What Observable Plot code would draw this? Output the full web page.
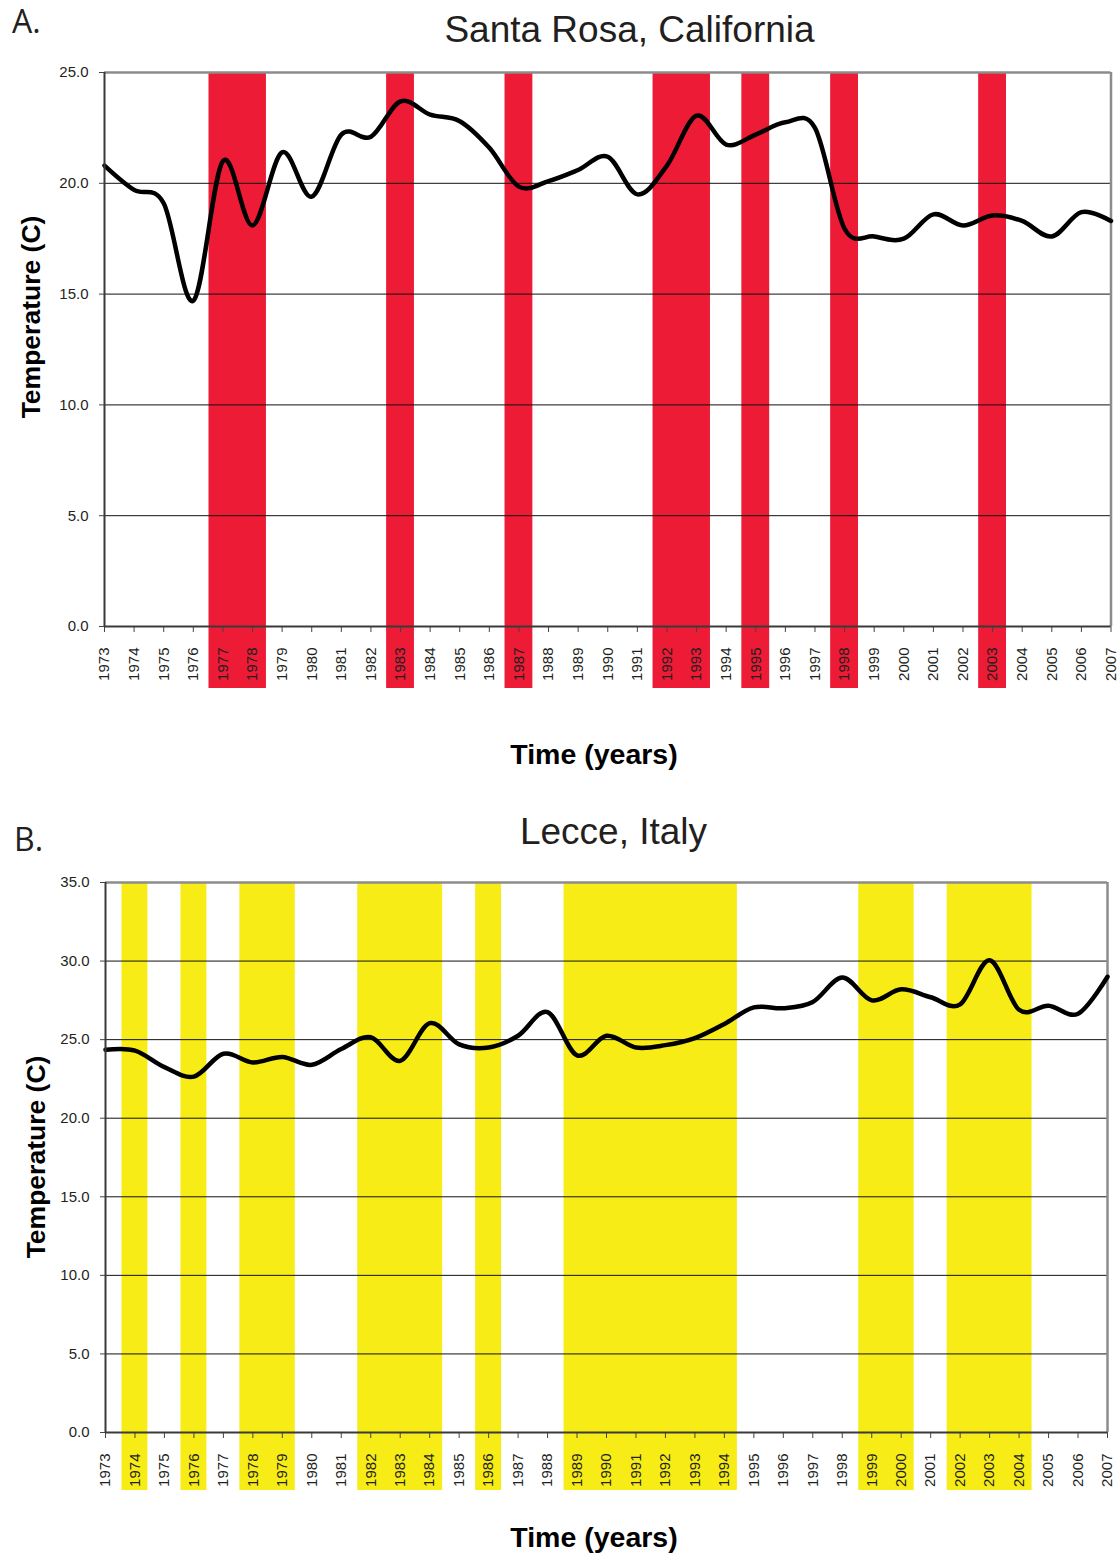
<!DOCTYPE html>
<html>
<head>
<meta charset="utf-8">
<script src="https://cdn.jsdelivr.net/npm/d3@7"></script>
<script src="https://cdn.jsdelivr.net/npm/@observablehq/plot@0.6"></script>
<style>
  html, body { margin: 0; padding: 0; background: #fff; }
  #root { position: relative; width: 1120px; height: 1556px; overflow: hidden; color: #231F20; }
  .abs { position: absolute; white-space: nowrap; line-height: 1; }
  .letter { font-family: "Open Sans", "Noto Sans", sans-serif; font-size: 32px; color: #231F20; }
  .title { font-family: "Liberation Sans", Arial, sans-serif; font-size: 37px; color: #231F20; transform: translateX(-50%); }
  .xtitle { font-family: "Liberation Sans", Arial, sans-serif; font-size: 28.5px; font-weight: bold; color: #000; transform: translateX(-50%); }
  .ytitle { font-family: "Liberation Sans", Arial, sans-serif; font-size: 26.5px; font-weight: bold; color: #000; transform: translate(-50%, -50%) rotate(-90deg); }
  .chart { position: absolute; left: 0; }
</style>
</head>
<body>
<div id="root">
  <div class="abs letter" style="left:12px;top:5px">A.</div>
  <div class="abs title" style="left:629.5px;top:10.5px">Santa Rosa, California</div>
  <div class="abs chart" id="chartA" style="top:0px"></div>
  <div class="abs ytitle" style="left:31px;top:317px">Temperature (C)</div>
  <div class="abs xtitle" style="left:594px;top:740px">Time (years)</div>

  <div class="abs letter" style="left:14px;top:823px">B.</div>
  <div class="abs title" style="left:613.5px;top:812.5px">Lecce, Italy</div>
  <div class="abs chart" id="chartB" style="top:790px"></div>
  <div class="abs ytitle" style="left:36px;top:1157px">Temperature (C)</div>
  <div class="abs xtitle" style="left:594px;top:1523px">Time (years)</div>
</div>
<script>
// ---- data ----
const years = [1973, 1974, 1975, 1976, 1977, 1978, 1979, 1980, 1981, 1982,
  1983, 1984, 1985, 1986, 1987, 1988, 1989, 1990, 1991, 1992,
  1993, 1994, 1995, 1996, 1997, 1998, 1999, 2000, 2001, 2002,
  2003, 2004, 2005, 2006, 2007];

const santaRosaTemp = [20.8, 19.7, 19.1, 14.7, 21.0, 18.1, 21.4, 19.4, 22.2, 22.1,
  23.7, 23.1, 22.8, 21.6, 19.85, 20.1, 20.6, 21.2, 19.5, 20.8,
  23.05, 21.75, 22.2, 22.75, 22.5, 17.95, 17.6, 17.5, 18.6, 18.1,
  18.55, 18.3, 17.6, 18.7, 18.3];

const lecceTemp = [24.35, 24.3, 23.25, 22.65, 24.1, 23.55, 23.9, 23.4, 24.4, 25.15,
  23.65, 26.05, 24.7, 24.5, 25.25, 26.75, 24.0, 25.25, 24.5, 24.65,
  25.1, 26.0, 27.05, 27.0, 27.4, 28.95, 27.5, 28.2, 27.7, 27.25,
  30.05, 26.9, 27.15, 26.65, 29.0];

const santaRosaHotYears = [1977, 1978, 1983, 1987, 1992, 1993, 1995, 1998, 2003];
const lecceHotYears = [1974, 1976, 1978, 1979, 1982, 1983, 1984, 1986,
  1989, 1990, 1991, 1992, 1993, 1994, 1999, 2000, 2002, 2003, 2004];

const santaRosaYTicks = [0, 5, 10, 15, 20, 25];
const lecceYTicks = [0, 5, 10, 15, 20, 25, 30, 35];

// ---- helpers ----
function runs(hot) {
  const out = [];
  for (const y of hot) {
    const last = out[out.length - 1];
    if (last && y === last.end + 1) last.end = y;
    else out.push({start: y, end: y});
  }
  return out;
}

function panel({temps, hot, yTicks, color, width, height, margins, half, extendPx}) {
  const data = years.map((year, i) => ({year, temp: temps[i]}));
  const yMin = yTicks[0], yMax = yTicks[yTicks.length - 1];
  const xMin = years[0], xMax = years[years.length - 1];
  const frameH = height - margins.top - margins.bottom;
  const ext = extendPx * (yMax - yMin) / frameH;
  const bands = runs(hot);
  return Plot.plot({
    width, height,
    marginTop: margins.top, marginBottom: margins.bottom,
    marginLeft: margins.left, marginRight: margins.right,
    style: {fontFamily: "'Liberation Sans', Arial, sans-serif", fontSize: "15px", color: "#231F20", background: "transparent", overflow: "visible"},
    x: {domain: [xMin, xMax], axis: null},
    y: {domain: [yMin, yMax], axis: null},
    marks: [
      Plot.rect(bands, {x1: d => d.start - half, x2: d => d.end + half, y1: yMin - ext, y2: yMax, fill: color}),
      Plot.ruleY(yTicks.slice(1, -1), {stroke: "#111", strokeWidth: 1}),
      Plot.ruleY([yMax], {stroke: "#8c8c8c", strokeWidth: 2.5}),
      Plot.ruleX([xMax], {stroke: "#8c8c8c", strokeWidth: 2.5}),
      Plot.line(data, {x: "year", y: "temp", curve: "cardinal", stroke: "#000", strokeWidth: 4.5, strokeLinejoin: "round", strokeLinecap: "round"}),
      Plot.axisY({ticks: yTicks, tickFormat: d3.format(".1f"), tickSize: 5, tickPadding: 11, label: null, stroke: "#444", fill: "#231F20"}),
      Plot.axisX({ticks: years, tickFormat: d => String(d), tickRotate: -90, tickSize: 6, tickPadding: 15, label: null, stroke: "#444", fill: "#231F20"}),
      Plot.ruleX([xMin], {stroke: "#3a3a3a", strokeWidth: 2}),
      Plot.ruleY([yMin], {stroke: "#3a3a3a", strokeWidth: 2})
    ]
  });
}

document.getElementById("chartA").append(panel({
  temps: santaRosaTemp, hot: santaRosaHotYears, yTicks: santaRosaYTicks, color: "#ED1B35",
  width: 1120, height: 780, margins: {top: 72, bottom: 154, left: 104, right: 9.5},
  half: 0.47, extendPx: 62
}));

document.getElementById("chartB").append(panel({
  temps: lecceTemp, hot: lecceHotYears, yTicks: lecceYTicks, color: "#F7EC15",
  width: 1120, height: 766, margins: {top: 92, bottom: 124, left: 105, right: 13},
  half: 0.44, extendPx: 58
}));
</script>
</body>
</html>
